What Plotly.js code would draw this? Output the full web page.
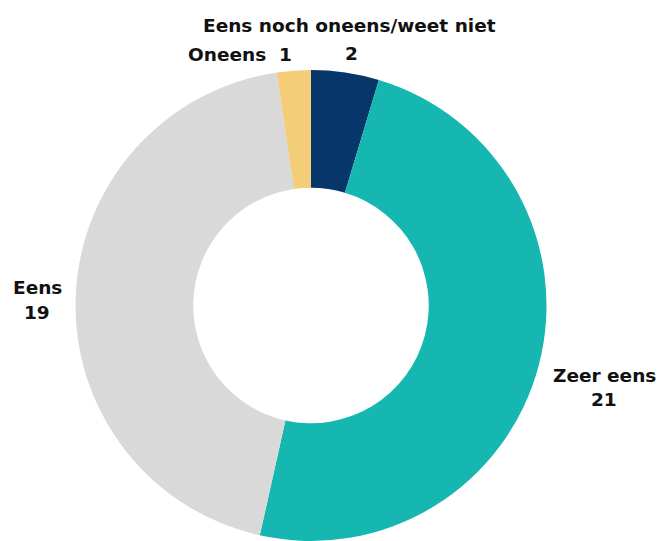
<!DOCTYPE html>
<html>
<head>
<meta charset="utf-8">
<script src="https://cdn.plot.ly/plotly-3.0.1.min.js"></script>
<style>html,body{margin:0;padding:0;background:#fff;}#chart{width:667px;height:541px;}</style>
</head>
<body>
<div id="chart"></div>
<script>
const categories = ["Eens noch oneens/weet niet", "Zeer eens", "Eens", "Oneens"];
const values = [2, 21, 19, 1];
const colors = ["#06366a", "#16b7b1", "#d9d9d9", "#f3cd78"];

const W = 667, H = 541;
const cx = 311, cy = 306, R = 236;

// label placements in pixels (label line, value line)
const labelPos = [
  {lx: 350, ly: 26, vx: 351, vy: 53},
  {lx: 604, ly: 375, vx: 604, vy: 399},
  {lx: 37, ly: 287, vx: 37, vy: 312},
  {lx: 240, ly: 55, vx: null, vy: null}
];

const font = {family: "DejaVu Sans, sans-serif", size: 18.5, color: "#111111", weight: 700};
const annotations = [];
categories.forEach((c, i) => {
  const p = labelPos[i];
  if (p.vx === null) {
    annotations.push({text: "<b>" + c + "  " + values[i] + "</b>", x: p.lx / W, y: 1 - p.ly / H,
      xref: "paper", yref: "paper", xanchor: "center", yanchor: "middle", showarrow: false, font: font});
  } else {
    annotations.push({text: "<b>" + c + "</b>", x: p.lx / W, y: 1 - p.ly / H,
      xref: "paper", yref: "paper", xanchor: "center", yanchor: "middle", showarrow: false, font: font});
    annotations.push({text: "<b>" + values[i] + "</b>", x: p.vx / W, y: 1 - p.vy / H,
      xref: "paper", yref: "paper", xanchor: "center", yanchor: "middle", showarrow: false, font: font});
  }
});

const trace = {
  type: "pie",
  labels: categories,
  values: values,
  hole: 0.5,
  sort: false,
  direction: "clockwise",
  rotation: 0,
  textinfo: "none",
  hoverinfo: "label+value",
  marker: {colors: colors, line: {width: 0}},
  domain: {x: [(cx - R) / W, (cx + R) / W], y: [Math.max(0, (H - cy - R) / H), (H - cy + R) / H]}
};

const layout = {
  width: W, height: H,
  margin: {l: 0, r: 0, t: 0, b: 0},
  showlegend: false,
  paper_bgcolor: "#ffffff",
  annotations: annotations
};

Plotly.newPlot("chart", [trace], layout, {displayModeBar: false, staticPlot: true});
</script>
</body>
</html>
